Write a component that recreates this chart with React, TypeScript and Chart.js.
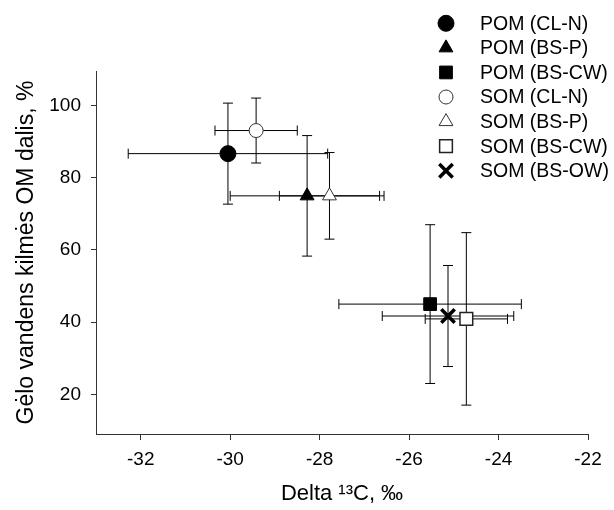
import React, { useEffect, useRef } from 'react';
import { Chart, registerables } from 'chart.js';
import { drawPoint } from 'chart.js/helpers';

Chart.register(...registerables);

// ---- Data ----
const seriesLabels = ['POM (CL-N)', 'POM (BS-P)', 'POM (BS-CW)', 'SOM (CL-N)', 'SOM (BS-P)', 'SOM (BS-CW)', 'SOM (BS-OW)'];
const delta13C = [-30.05, -28.28, -25.53, -29.42, -27.78, -24.72, -25.13];
const freshwaterShare = [86.7, 75.0, 45.0, 93.1, 75.0, 40.9, 41.7];
const delta13CErr = [2.23, 1.72, 2.04, 0.92, 1.12, 0.92, 1.47];
const freshwaterErr = [14.0, 16.7, 22.0, 9.0, 12.0, 23.9, 14.0];
const xTicks = [-32, -30, -28, -26, -24, -22];
const yTicks = [20, 40, 60, 80, 100];

// ---- Marker styles ----
type MarkerStyle = { pointStyle: string; radius: number; fill: string; border: string; borderWidth: number };
const markerStyles: MarkerStyle[] = [
  { pointStyle: 'circle', radius: 8, fill: '#000', border: '#000', borderWidth: 1 },
  { pointStyle: 'triangle', radius: 8, fill: '#000', border: '#000', borderWidth: 1 },
  { pointStyle: 'rect', radius: 9, fill: '#000', border: '#000', borderWidth: 1 },
  { pointStyle: 'circle', radius: 7, fill: '#fff', border: '#333', borderWidth: 1 },
  { pointStyle: 'triangle', radius: 8, fill: '#fff', border: '#333', borderWidth: 1 },
  { pointStyle: 'rect', radius: 9, fill: '#fff', border: '#222', borderWidth: 1.5 },
  { pointStyle: 'crossRot', radius: 9.5, fill: '#000', border: '#000', borderWidth: 3.5 },
];

const FONT = 'Liberation Sans, Arial, sans-serif';

const errorBarPlugin = {
  id: 'errorBars',
  beforeDatasetsDraw(chart: any) {
    const { ctx } = chart;
    const xs = chart.scales.x;
    const ys = chart.scales.y;
    const cap = 5;
    ctx.save();
    ctx.strokeStyle = '#000';
    ctx.lineWidth = 1;
    for (let i = 0; i < delta13C.length; i++) {
      const px = xs.getPixelForValue(delta13C[i]);
      const py = ys.getPixelForValue(freshwaterShare[i]);
      const xl = xs.getPixelForValue(delta13C[i] - delta13CErr[i]);
      const xr = xs.getPixelForValue(delta13C[i] + delta13CErr[i]);
      const yt = ys.getPixelForValue(freshwaterShare[i] + freshwaterErr[i]);
      const yb = ys.getPixelForValue(freshwaterShare[i] - freshwaterErr[i]);
      ctx.beginPath();
      ctx.moveTo(xl, py); ctx.lineTo(xr, py);
      ctx.moveTo(xl, py - cap); ctx.lineTo(xl, py + cap);
      ctx.moveTo(xr, py - cap); ctx.lineTo(xr, py + cap);
      ctx.moveTo(px, yt); ctx.lineTo(px, yb);
      ctx.moveTo(px - cap, yt); ctx.lineTo(px + cap, yt);
      ctx.moveTo(px - cap, yb); ctx.lineTo(px + cap, yb);
      ctx.stroke();
    }
    ctx.restore();
  },
};

const customLegendPlugin = {
  id: 'customLegend',
  afterDraw(chart: any) {
    const { ctx } = chart;
    const markerX = 446;
    const textX = 480;
    const top = 23.3;
    const step = 24.57;
    ctx.save();
    chart.data.datasets.forEach((ds: any, i: number) => {
      const st = markerStyles[i];
      const y = top + i * step;
      ctx.fillStyle = st.fill;
      ctx.strokeStyle = st.border;
      ctx.lineWidth = st.borderWidth;
      drawPoint(ctx, { pointStyle: st.pointStyle, radius: st.radius, rotation: 0, borderWidth: st.borderWidth } as any, markerX, y);
      ctx.fillStyle = '#000';
      ctx.font = `19.5px ${FONT}`;
      ctx.textAlign = 'left';
      ctx.textBaseline = 'middle';
      ctx.fillText(ds.label, textX, y + 1);
    });
    ctx.restore();
  },
};

export default function App() {
  const canvasRef = useRef<HTMLCanvasElement | null>(null);

  useEffect(() => {
    document.body.style.margin = '0';
    const canvas = canvasRef.current;
    if (!canvas) return;
    Chart.defaults.font.family = FONT;

    const datasets = seriesLabels.map((label, i) => ({
      label,
      data: [{ x: delta13C[i], y: freshwaterShare[i] }],
      pointStyle: markerStyles[i].pointStyle as any,
      pointRadius: markerStyles[i].radius,
      pointBackgroundColor: markerStyles[i].fill,
      pointBorderColor: markerStyles[i].border,
      pointBorderWidth: markerStyles[i].borderWidth,
      showLine: false,
    }));

    const chart = new Chart(canvas, {
      type: 'scatter',
      data: { datasets },
      options: {
        animation: false,
        responsive: false,
        events: [],
        layout: { padding: { top: 71, right: 26, left: 0, bottom: 0 } },
        plugins: {
          legend: { display: false },
          tooltip: { enabled: false },
        },
        scales: {
          x: {
            type: 'linear',
            position: 'bottom',
            min: -33,
            max: -22,
            afterBuildTicks: (s: any) => { s.ticks = xTicks.map((v) => ({ value: v })); },
            afterFit: (s: any) => { s.height = 76; },
            ticks: { color: '#000', font: { size: 19, family: FONT }, padding: 8, maxRotation: 0, autoSkip: false },
            grid: { drawOnChartArea: false, drawTicks: true, tickLength: 6, color: '#333' },
            border: { display: true, color: '#333', width: 1 },
            title: { display: true, text: 'Delta ¹³C, ‰', color: '#000', font: { size: 22, family: FONT }, padding: { top: 0, bottom: 3 } },
          },
          y: {
            type: 'linear',
            position: 'left',
            min: 9,
            max: 109.6,
            afterBuildTicks: (s: any) => { s.ticks = yTicks.map((v) => ({ value: v })); },
            afterFit: (s: any) => { s.width = 96; },
            ticks: { color: '#000', font: { size: 19, family: FONT }, padding: 10 },
            grid: { drawOnChartArea: false, drawTicks: true, tickLength: 5, color: '#333' },
            border: { display: true, color: '#333', width: 1 },
            title: { display: true, text: 'Gėlo vandens kilmės OM dalis, %', color: '#000', font: { size: 23, family: FONT }, padding: { top: 13, bottom: 0 } },
          },
        },
      },
      plugins: [errorBarPlugin, customLegendPlugin],
    });

    return () => chart.destroy();
  }, []);

  return (
    <div style={{ width: 614, height: 510, position: 'relative', background: '#fff' }}>
      <canvas ref={canvasRef} width={614} height={510} style={{ display: 'block' }} />
    </div>
  );
}
